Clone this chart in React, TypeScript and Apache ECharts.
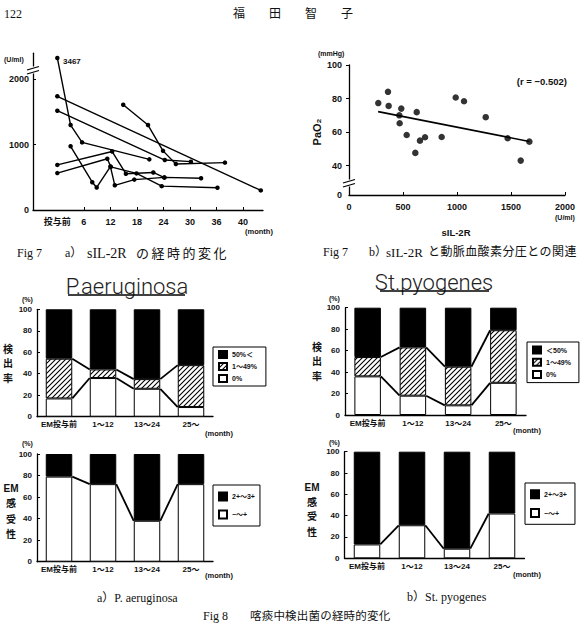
import React, { useEffect, useRef } from 'react';
import * as echarts from 'echarts';

// ---------- Fig 7 a) sIL-2R over time ----------
const monthTickValues = [0, 6, 12, 18, 24, 30, 36, 42];
const monthTickLabels = ['投与前', '6', '12', '18', '24', '30', '36', '40'];
const sil2rTickValues = [0, 1000, 2000];
const patient1 = [[0, 3467], [3, 1300], [5.6, 1035], [20.8, 775]];
const patient2 = [[0, 1740], [46, 300]];
const patient3 = [[0, 1520], [24.3, 765], [30.2, 740]];
const patient4 = [[14.9, 1610], [20.5, 1300], [23.9, 905], [26.8, 705], [37.9, 725]];
const patient5 = [[3, 975], [7.9, 425], [8.9, 345], [12, 665], [13, 378], [17.4, 465], [24.2, 500], [32.5, 485]];
const patient6 = [[0, 690], [12.4, 895], [15.5, 555], [21.7, 575], [24.2, 495]];
const patient7 = [[0, 565], [11.3, 785], [12.1, 660], [17.9, 560], [23.6, 365], [36.2, 340]];
const patients = [patient1, patient2, patient3, patient4, patient5, patient6, patient7];

// ---------- Fig 7 b) sIL-2R vs PaO2 ----------
const sil2rValues = [271, 361, 367, 484, 466, 469, 534, 627, 614, 657, 704, 858, 988, 1065, 1266, 1469, 1590, 1670];
const pao2Values = [77.3, 84, 75.6, 74, 70, 65.3, 58.3, 71.9, 47.6, 54.9, 56.9, 57.1, 80.6, 78.4, 68.9, 56.3, 43, 54.3];
const regressionX = [270, 1670];
const regressionY = [72.2, 54.4];
const pao2TickLabels = ['0', '40', '60', '80', '100'];

// ---------- Fig 8 ----------
const periods = ['EM投与前', '1〜12', '13〜24', '25〜'];
const paZero = [17, 36, 26, 9];
const paLow = [37, 8, 9, 39];
const paHigh = [46, 56, 65, 52];
const spZero = [36, 18, 9, 30];
const spLow = [18, 45, 36, 49];
const spHigh = [46, 37, 55, 21];
const paSensitive = [79, 72, 38, 72];
const paResistant = [21, 28, 62, 28];
const spSensitive = [13, 31, 9, 42];
const spResistant = [87, 69, 91, 58];

const SANS = "'Liberation Sans', Arial, 'Noto Sans CJK JP', sans-serif";
const SERIF = "'Liberation Serif', 'Noto Sans CJK JP', serif";
const TITLE = "Roboto, 'Liberation Sans', sans-serif";
const BAR_W = 26.5;

// display transform for the broken y axis of Fig 7a
const fig7aScale = (v: number) => (v <= 2100 ? v : 2300 + (v - 3400) * 0.4);
// position of the "0" label of the broken PaO2 axis
const PAO2_AXIS_ZERO = 22.5;

type TO = { bold?: boolean; serif?: boolean; align?: string; rot?: number; color?: string; weight?: string; family?: string };
function txt(text: string, x: number, y: number, size: number, o: TO = {}) {
  const weight = o.weight || (o.bold ? 'bold' : 'normal');
  const family = o.family || (o.serif ? SERIF : SANS);
  return {
    type: 'text',
    x,
    y,
    rotation: o.rot || 0,
    z: 100,
    silent: true,
    style: {
      text,
      fill: o.color || '#111',
      font: `${weight} ${size}px ${family}`,
      textAlign: o.align || 'left',
      align: o.align || 'left',
      textVerticalAlign: 'middle',
      verticalAlign: 'middle',
    },
  };
}
function spaced(text: string, x0: number, pitch: number, y: number, size: number, o: TO = {}) {
  return Array.from(text).map((ch, i) => txt(ch, x0 + i * pitch, y, size, o));
}
function vstack(chars: string[], x: number, ys: number[], size: number) {
  return chars.map((ch, i) => txt(ch, x, ys[i], size, { bold: true, align: 'center' }));
}
function gline(x1: number, y1: number, x2: number, y2: number, w = 1.3) {
  return { type: 'line', z: 101, silent: true, shape: { x1, y1, x2, y2 }, style: { stroke: '#000', lineWidth: w } };
}
function grect(x: number, y: number, width: number, height: number) {
  return { type: 'rect', z: 100, silent: true, shape: { x, y, width, height }, style: { fill: '#fff' } };
}

const axisLine = { show: true, onZero: false, lineStyle: { color: '#000', width: 1.3 } };
const labelBase = { color: '#111', fontWeight: 'bold', fontFamily: SANS };
const plain = (v: number) => String(v);

// "/" hatch tile
function makeHatch() {
  const s = 5;
  const c = document.createElement('canvas');
  c.width = s;
  c.height = s;
  const g = c.getContext('2d')!;
  g.fillStyle = '#fff';
  g.fillRect(0, 0, s, s);
  g.strokeStyle = '#000';
  g.lineWidth = 1.1;
  g.beginPath();
  g.moveTo(0, s);
  g.lineTo(s, 0);
  g.moveTo(-1, 1);
  g.lineTo(1, -1);
  g.moveTo(s - 1, s + 1);
  g.lineTo(s + 1, s - 1);
  g.stroke();
  return { image: c, repeat: 'repeat' };
}

function stackSeries(axis: number, stack: string, parts: { name: string; data: number[]; style: any }[]) {
  return parts.map((p) => ({
    type: 'bar',
    name: p.name,
    xAxisIndex: axis,
    yAxisIndex: axis,
    stack,
    barWidth: BAR_W,
    data: p.data,
    silent: true,
    itemStyle: p.style,
  }));
}

function connectors(axis: number, boundaries: number[][]) {
  const data = boundaries[0].slice(0, -1).map((_, i) => {
    const row: number[] = [i];
    boundaries.forEach((b) => row.push(b[i], b[i + 1]));
    return row;
  });
  return {
    type: 'custom',
    xAxisIndex: axis,
    yAxisIndex: axis,
    z: 5,
    silent: true,
    data,
    renderItem: (params: any, api: any) => {
      const i = params.dataIndex;
      const children = boundaries.map((_, k) => {
        const a = api.coord([i, api.value(1 + 2 * k)]);
        const b = api.coord([i + 1, api.value(2 + 2 * k)]);
        return {
          type: 'line',
          shape: { x1: a[0] + BAR_W / 2, y1: a[1], x2: b[0] - BAR_W / 2, y2: b[1] },
          style: { stroke: '#000', lineWidth: 1.8 },
        };
      });
      return { type: 'group', children };
    },
  };
}

const cumulative = (a: number[], b: number[]) => a.map((v, i) => v + b[i]);

function legendBox(names: string[], left: number, top: number, itemH: number, gap: number, pad: number[]) {
  return {
    data: names,
    left,
    top,
    orient: 'vertical',
    icon: 'rect',
    itemWidth: 8,
    itemHeight: itemH,
    itemGap: gap,
    padding: pad,
    borderColor: '#000',
    borderWidth: 1,
    backgroundColor: '#fff',
    selectedMode: false,
    textStyle: { fontSize: 7, fontWeight: 'bold', color: '#111', fontFamily: SANS },
  };
}

function catX(grid: number) {
  return {
    gridIndex: grid,
    type: 'category',
    data: periods,
    axisLine,
    axisTick: { show: false },
    axisLabel: { ...labelBase, fontSize: 8, margin: 4, interval: 0 },
    splitLine: { show: false },
  };
}
function pctY(grid: number) {
  return {
    gridIndex: grid,
    type: 'value',
    min: 0,
    max: 100,
    interval: 20,
    axisLine,
    axisTick: { show: true, inside: true, length: 3, lineStyle: { color: '#000' } },
    axisLabel: { ...labelBase, fontSize: 8, margin: 5 },
    splitLine: { show: false },
  };
}

function buildOption() {
  const whiteStyle = { color: '#fff', borderColor: '#000', borderWidth: 1 };
  const blackStyle = { color: '#000', borderColor: '#000', borderWidth: 1 };
  const hatchStyle = { color: makeHatch(), borderColor: '#000', borderWidth: 1 };

  const grids = [
    { left: 33, top: 53.2, width: 230, height: 156.8 },
    { left: 349, top: 65, width: 216, height: 130 },
    { left: 37, top: 309.3, width: 176, height: 107.4 },
    { left: 37, top: 454, width: 176, height: 107.7 },
    { left: 345, top: 307.7, width: 181, height: 107.3 },
    { left: 344.5, top: 451.7, width: 180, height: 106.6 },
  ];

  const xAxis = [
    {
      gridIndex: 0,
      type: 'value',
      min: -5.5,
      max: 46.5,
      axisLine,
      axisTick: { show: true, inside: true, length: 3, customValues: monthTickValues.slice(1), lineStyle: { color: '#000' } },
      axisLabel: {
        ...labelBase,
        fontSize: 9,
        margin: 7,
        customValues: monthTickValues,
        formatter: (v: number) => {
          const i = monthTickValues.indexOf(v);
          return i >= 0 ? monthTickLabels[i] : '';
        },
      },
      splitLine: { show: false },
    },
    {
      gridIndex: 1,
      type: 'value',
      min: 0,
      max: 2000,
      interval: 500,
      axisLine,
      axisTick: { show: true, inside: true, length: 3, lineStyle: { color: '#000' } },
      axisLabel: { ...labelBase, fontSize: 9, margin: 7, formatter: plain },
      splitLine: { show: false },
    },
    catX(2),
    catX(3),
    catX(4),
    catX(5),
  ];
  const pao2Ticks = [PAO2_AXIS_ZERO, 40, 60, 80, 100];
  const yAxis = [
    {
      gridIndex: 0,
      type: 'value',
      min: 0,
      max: 2400,
      axisLine,
      axisTick: { show: true, inside: true, length: 3, customValues: [1000, 2000], lineStyle: { color: '#000' } },
      axisLabel: { ...labelBase, fontSize: 9, margin: 4, customValues: sil2rTickValues, formatter: plain },
      splitLine: { show: false },
    },
    {
      gridIndex: 1,
      type: 'value',
      min: PAO2_AXIS_ZERO,
      max: 100,
      axisLine,
      axisTick: { show: true, inside: false, length: 3, customValues: [40, 60, 80, 100], lineStyle: { color: '#000' } },
      axisLabel: {
        ...labelBase,
        fontSize: 9,
        margin: 7,
        customValues: pao2Ticks,
        formatter: (v: number) => {
          const i = pao2Ticks.indexOf(v);
          return i >= 0 ? pao2TickLabels[i] : '';
        },
      },
      splitLine: { show: false },
    },
    pctY(2),
    pctY(3),
    pctY(4),
    pctY(5),
  ];

  const series: any[] = [];
  patients.forEach((p) => {
    series.push({
      type: 'line',
      xAxisIndex: 0,
      yAxisIndex: 0,
      data: p.map(([m, v]) => [m, fig7aScale(v)]),
      symbol: 'circle',
      symbolSize: 4.5,
      silent: true,
      lineStyle: { color: '#000', width: 1.4 },
      itemStyle: { color: '#000' },
    });
  });
  series.push({
    type: 'scatter',
    xAxisIndex: 1,
    yAxisIndex: 1,
    data: sil2rValues.map((x, i) => [x, pao2Values[i]]),
    symbolSize: 6.5,
    silent: true,
    itemStyle: { color: '#000' },
  });
  series.push({
    type: 'line',
    xAxisIndex: 1,
    yAxisIndex: 1,
    data: regressionX.map((x, i) => [x, regressionY[i]]),
    symbol: 'none',
    silent: true,
    lineStyle: { color: '#000', width: 1.6 },
  });

  series.push(
    ...stackSeries(2, 'pa', [
      { name: '0%', data: paZero, style: whiteStyle },
      { name: '1〜49%', data: paLow, style: hatchStyle },
      { name: '50%＜', data: paHigh, style: blackStyle },
    ])
  );
  series.push(connectors(2, [paZero, cumulative(paZero, paLow)]));
  series.push(
    ...stackSeries(3, 'pas', [
      { name: '−〜+', data: paSensitive, style: whiteStyle },
      { name: '2+〜3+', data: paResistant, style: blackStyle },
    ])
  );
  series.push(connectors(3, [paSensitive]));
  series.push(
    ...stackSeries(4, 'sp', [
      { name: '0%', data: spZero, style: whiteStyle },
      { name: '1〜49%', data: spLow, style: hatchStyle },
      { name: '＜50%', data: spHigh, style: blackStyle },
    ])
  );
  series.push(connectors(4, [spZero, cumulative(spZero, spLow)]));
  series.push(
    ...stackSeries(5, 'sps', [
      { name: '−〜+', data: spSensitive, style: whiteStyle },
      { name: '2+〜3+', data: spResistant, style: blackStyle },
    ])
  );
  series.push(connectors(5, [spSensitive]));

  const legend = [
    legendBox(['50%＜', '1〜49%', '0%'], 213, 347, 7, 3, [3, 9, 3, 5]),
    legendBox(['2+〜3+', '−〜+'], 213, 485, 8, 8, [6.5, 5, 6.5, 5]),
    legendBox(['＜50%', '1〜49%', '0%'], 527, 342, 7, 3.3, [3.5, 8, 3.5, 5]),
    legendBox(['2+〜3+', '−〜+'], 525, 483, 8, 8.7, [6.3, 8, 6.3, 5]),
  ];

  const elements: any[] = [
    // page header
    txt('122', 4, 14, 12, { serif: true }),
    txt('福　　田　　智　　子', 293, 14, 12, { serif: true, align: 'center' }),

    // Fig 7a
    txt('(U/ml)', 4, 59, 7, { bold: true }),
    txt('3467', 63, 61, 8, { bold: true }),
    txt('(month)', 245, 231, 7.5, { bold: true }),
    grect(28, 66.5, 10, 7),
    gline(27, 70, 39, 66.5),
    gline(27, 74, 39, 70.5),
    txt('Fig 7', 17, 253, 12, { serif: true }),
    txt('a）', 65, 253, 12, { serif: true }),
    txt('sIL-2R', 87, 253, 14, { serif: true }),
    ...spaced('の経時的変化', 136, 15.5, 253, 13, { serif: true }),

    // Fig 7b
    txt('(mmHg)', 318, 53, 7, { bold: true }),
    txt('PaO₂', 317, 132, 11, { bold: true, align: 'center', rot: Math.PI / 2 }),
    txt('sIL-2R', 456, 232, 9.5, { bold: true, align: 'center' }),
    txt('(U/ml)', 555, 217, 7, { bold: true }),
    txt('(r = −0.502)', 567, 81, 9.5, { bold: true, align: 'right' }),
    grect(344, 179.5, 10, 7),
    gline(343, 183, 355, 179.5),
    gline(343, 187, 355, 183.5),
    txt('Fig 7', 323, 252, 12, { serif: true }),
    txt('b）', 369, 252, 12, { serif: true }),
    txt('sIL-2R', 386, 252, 13, { serif: true }),
    ...spaced('と動脈血酸素分圧との関連', 428, 12.4, 252, 12, { serif: true }),

    // Fig 8a
    txt('P.aeruginosa', 127, 286, 22, { align: 'center', color: '#222', family: TITLE, weight: '300' }),
    gline(68, 295, 185, 295, 1.5),
    txt('(%)', 22, 299, 7, { bold: true }),
    ...vstack(['検', '出', '率'], 8, [349, 363.5, 378], 10),
    txt('(month)', 205, 433, 7.5, { bold: true }),
    txt('(%)', 22, 443, 7, { bold: true }),
    ...vstack(['EM', '感', '受', '性'], 11, [488, 503, 519, 534], 10),
    txt('(month)', 205, 575, 7.5, { bold: true }),
    txt('a）P. aeruginosa', 97, 598, 12, { serif: true }),

    // Fig 8b
    txt('St.pyogenes', 434, 282, 22, { align: 'center', color: '#222', family: TITLE, weight: '300' }),
    gline(380, 291, 489, 291, 1.5),
    txt('(%)', 329, 298, 7, { bold: true }),
    ...vstack(['検', '出', '率'], 317, [347, 361.5, 376], 10),
    txt('(month)', 513, 430, 7.5, { bold: true }),
    txt('(%)', 329, 442, 7, { bold: true }),
    ...vstack(['EM', '感', '受', '性'], 312, [487, 502, 516, 532], 10),
    txt('(month)', 513, 574, 7.5, { bold: true }),
    txt('b）St. pyogenes', 407, 597, 12, { serif: true }),

    // Fig 8 caption
    txt('Fig 8', 203, 616, 12, { serif: true }),
    ...spaced('喀痰中検出菌の経時的変化', 250, 11.7, 616, 11.5, { serif: true }),
  ];

  return {
    animation: false,
    backgroundColor: '#fff',
    grid: grids,
    xAxis,
    yAxis,
    legend,
    series,
    graphic: { elements },
  };
}

export default function App() {
  const ref = useRef<HTMLDivElement>(null);
  useEffect(() => {
    if (!ref.current) return;
    const chart = echarts.init(ref.current, undefined, { renderer: 'svg' });
    chart.setOption(buildOption() as any);
    return () => chart.dispose();
  }, []);
  return (
    <div
      ref={ref}
      style={{ position: 'fixed', left: 0, top: 0, width: 584, height: 630, background: '#fff' }}
    />
  );
}
